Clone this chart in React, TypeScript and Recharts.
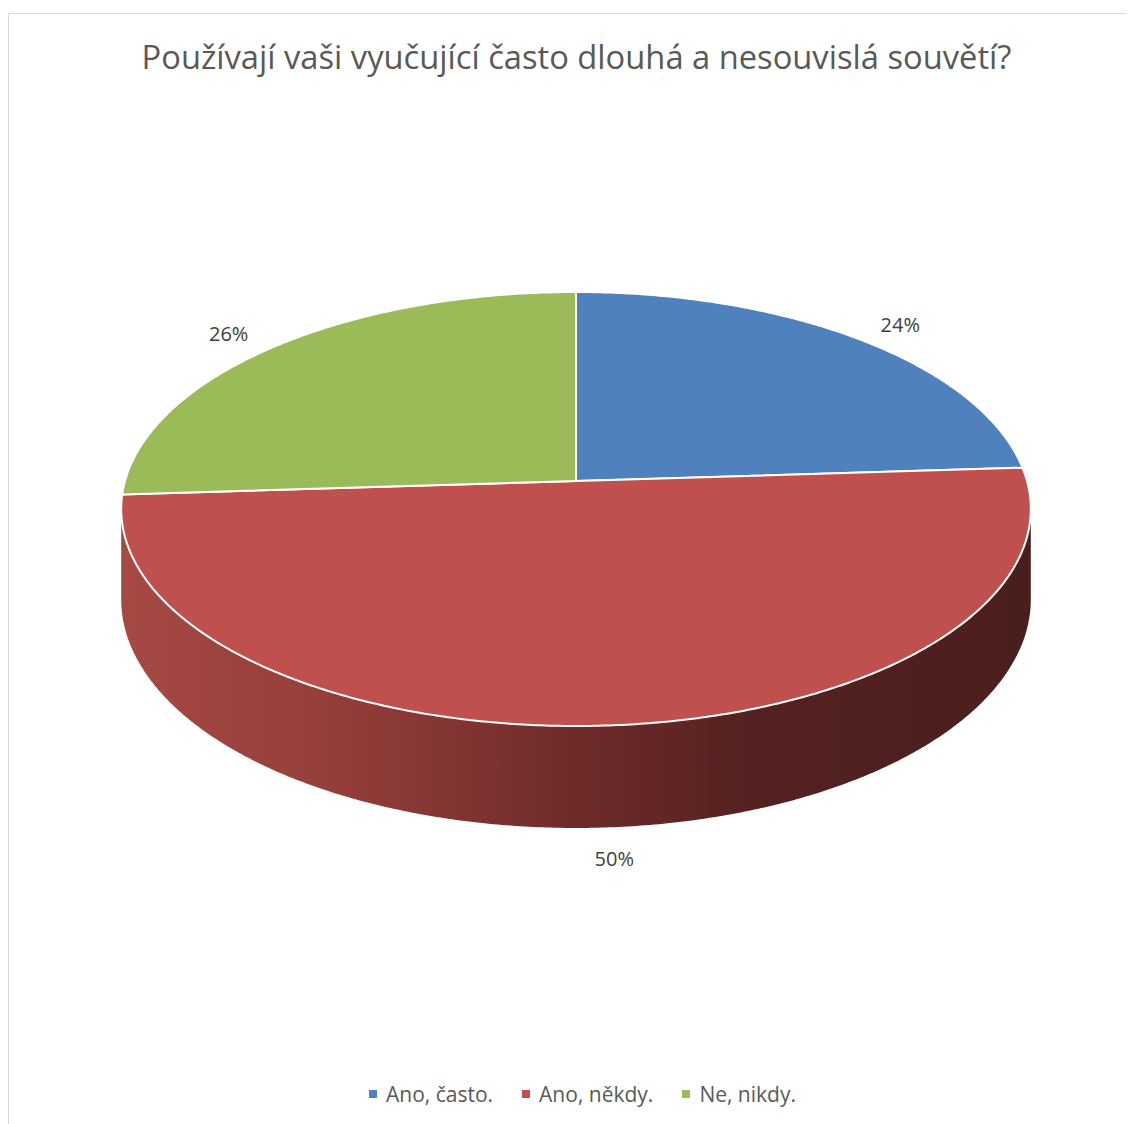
import React from 'react';
import { PieChart, Pie, Cell, Legend } from 'recharts';

const categories = ['Ano, často.', 'Ano, někdy.', 'Ne, nikdy.'];
const shares = [24, 50, 26];
const colors = ['#4f81bd', '#c0504d', '#9bbb59'];
const title = 'Používají vaši vyučující často dlouhá a nesouvislá souvětí?';

const data = categories.map((name, i) => ({ name, value: shares[i] }));

const FONT = '"Open Sans", "DejaVu Sans", sans-serif';
const W = 1126;
const H = 1111;
const OX = 9;
const OY = 14;
const HX = 576 - OX;
const HY = 481 - OY;
const K = 0.129;
const A = 451;
const B = 213.4;
const D = 88.8;

function proj(theta: number, r = 1, rx = r) {
  const t = (theta * Math.PI) / 180;
  const X = rx * Math.sin(t);
  const Z = r * Math.cos(t);
  const w = 1 + K * Z;
  return { x: HX + (A * X) / w, y: HY - (B * Z) / w, d: D / w };
}

const VIS_A = (Math.acos(-K) * 180) / Math.PI;
const VIS_B = 360 - VIS_A;

function arcPoints(a: number, b: number) {
  const pts: { x: number; y: number; d: number }[] = [];
  const n = Math.max(2, Math.ceil(Math.abs(b - a) / 0.5));
  for (let i = 0; i <= n; i++) pts.push(proj(a + ((b - a) * i) / n));
  return pts;
}

const SliceShape = (props: any) => {
  const { startAngle, endAngle, fill, index } = props;
  const t1 = 90 - startAngle;
  const t2 = 90 - endAngle;
  const lo = Math.min(t1, t2);
  const hi = Math.max(t1, t2);
  const top = arcPoints(lo, hi);
  const topPath =
    `M${HX},${HY} ` + top.map((p) => `L${p.x.toFixed(2)},${p.y.toFixed(2)}`).join(' ') + ' Z';
  const sa = Math.max(lo, VIS_A);
  const sb = Math.min(hi, VIS_B);
  let side: React.ReactNode = null;
  if (sb > sa) {
    const rim = arcPoints(sa, sb);
    const up = rim.map((p) => `${p.x.toFixed(2)},${p.y.toFixed(2)}`);
    const down = rim
      .slice()
      .reverse()
      .map((p) => `${p.x.toFixed(2)},${(p.y + p.d).toFixed(2)}`);
    side = (
      <g>
        <defs>
          <linearGradient id={`side-${index}`} gradientUnits="userSpaceOnUse" x1={HX - A} y1="0" x2={HX + A} y2="0">
            <stop offset="0%" stopColor="#a64944" />
            <stop offset="25%" stopColor="#923d3a" />
            <stop offset="50%" stopColor="#6e2b2a" />
            <stop offset="70%" stopColor="#542121" />
            <stop offset="100%" stopColor="#4b1e1e" />
          </linearGradient>
        </defs>
        <path d={`M${up.join(' L')} L${down.join(' L')} Z`} fill={`url(#side-${index})`} stroke="none" />
      </g>
    );
  }
  return (
    <g>
      {side}
      <path d={topPath} fill={fill} stroke="#ffffff" strokeWidth={2} strokeLinejoin="round" />
    </g>
  );
};

const renderLabel = (props: any) => {
  const { midAngle, percent } = props;
  const th = 90 - midAngle;
  const p = proj(th, 1.11, 1.16);
  const c = Math.cos((th * Math.PI) / 180);
  const extra = c < 0 ? -c * proj(th, 1).d : 0;
  return (
    <text
      x={p.x}
      y={p.y + extra}
      textAnchor="middle"
      dominantBaseline="central"
      fill="#404040"
      fontSize={20}
      fontFamily={FONT}
    >
      {`${Math.round(percent * 100)}%`}
    </text>
  );
};

const renderLegend = (props: any) => {
  const payload = (props.payload || [])
    .slice()
    .sort((a: any, b: any) => categories.indexOf(a.value) - categories.indexOf(b.value));
  return (
    <div
      style={{
        display: 'flex',
        justifyContent: 'center',
        alignItems: 'center',
        fontFamily: FONT,
        fontSize: 21,
        color: '#595959',
        paddingLeft: 12,
      }}
    >
      {payload.map((e: any, i: number) => (
        <div key={i} style={{ display: 'flex', alignItems: 'center', marginRight: i < payload.length - 1 ? 29 : 0 }}>
          <span style={{ display: 'inline-block', width: 8, height: 8, background: e.color, marginRight: 9 }} />
          <span>{e.value}</span>
        </div>
      ))}
    </div>
  );
};

export default function App() {
  return (
    <div
      style={{
        marginTop: 5,
        width: W,
        height: H,
        boxSizing: 'content-box',
        borderTop: '1px solid #d9d9d9',
        borderLeft: '1px solid #d9d9d9',
        position: 'relative',
        background: '#ffffff',
      }}
    >
      <style>{'body{overflow:hidden;}'}</style>
      <div
        style={{
          position: 'absolute',
          left: 0,
          top: 58 - OY - 24,
          width: 2 * (576.5 - OX),
          textAlign: 'center',
          fontFamily: FONT,
          fontSize: 32.7,
          lineHeight: '46px',
          color: '#595959',
          whiteSpace: 'nowrap',
        }}
      >
        {title}
      </div>
      <PieChart width={W} height={H} margin={{ top: 0, right: 0, bottom: 0, left: 0 }}>
        <Pie
          data={data}
          dataKey="value"
          nameKey="name"
          cx={HX}
          cy={HY}
          outerRadius={200}
          startAngle={90}
          endAngle={-270}
          isAnimationActive={false}
          shape={SliceShape}
          label={renderLabel}
          labelLine={false}
          stroke="none"
        >
          {data.map((d, i) => (
            <Cell key={d.name} fill={colors[i]} />
          ))}
        </Pie>
        <Legend
          content={renderLegend}
          wrapperStyle={{ position: 'absolute', top: 1080 - OY, left: 0, width: 2 * (576.5 - OX), height: 28 }}
        />
      </PieChart>
    </div>
  );
}
